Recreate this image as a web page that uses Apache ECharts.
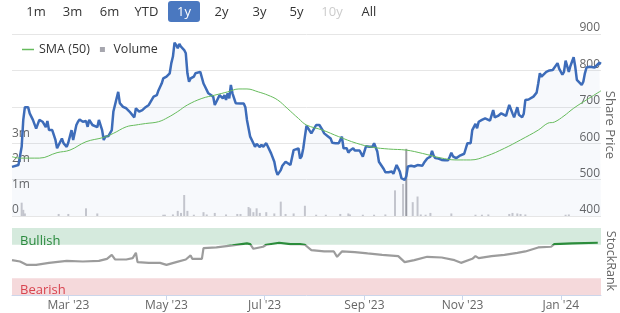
<!DOCTYPE html>
<html><head><meta charset="utf-8">
<script src="https://cdn.jsdelivr.net/npm/echarts@6/dist/echarts.min.js"></script>
<style>html,body{margin:0;padding:0;background:#fff}#c{width:620px;height:313px}</style>
</head><body><div id="c"></div>
<script>
const priceDates = ['2023-01-25','2023-01-26','2023-01-29','2023-01-30','2023-01-31','2023-02-01','2023-02-02','2023-02-04','2023-02-05','2023-02-07','2023-02-08','2023-02-09','2023-02-11','2023-02-13','2023-02-15','2023-02-16','2023-02-17','2023-02-19','2023-02-21','2023-02-22','2023-02-25','2023-02-26','2023-02-28','2023-03-01','2023-03-03','2023-03-04','2023-03-06','2023-03-07','2023-03-08','2023-03-10','2023-03-12','2023-03-13','2023-03-14','2023-03-16','2023-03-17','2023-03-19','2023-03-20','2023-03-22','2023-03-23','2023-03-24','2023-03-25','2023-03-26','2023-03-28','2023-03-29','2023-03-30','2023-04-01','2023-04-02','2023-04-04','2023-04-06','2023-04-08','2023-04-11','2023-04-12','2023-04-14','2023-04-16','2023-04-18','2023-04-20','2023-04-23','2023-04-25','2023-04-26','2023-04-28','2023-04-29','2023-05-01','2023-05-03','2023-05-04','2023-05-05','2023-05-06','2023-05-07','2023-05-08','2023-05-09','2023-05-10','2023-05-12','2023-05-13','2023-05-14','2023-05-15','2023-05-16','2023-05-17','2023-05-18','2023-05-19','2023-05-20','2023-05-22','2023-05-23','2023-05-24','2023-05-25','2023-05-27','2023-05-28','2023-05-30','2023-05-31','2023-06-01','2023-06-03','2023-06-04','2023-06-05','2023-06-06','2023-06-07','2023-06-08','2023-06-09','2023-06-10','2023-06-11','2023-06-13','2023-06-14','2023-06-16','2023-06-18','2023-06-19','2023-06-20','2023-06-22','2023-06-24','2023-06-25','2023-06-26','2023-06-28','2023-06-29','2023-06-30','2023-07-02','2023-07-03','2023-07-05','2023-07-07','2023-07-08','2023-07-09','2023-07-11','2023-07-12','2023-07-14','2023-07-15','2023-07-17','2023-07-18','2023-07-19','2023-07-20','2023-07-22','2023-07-23','2023-07-24','2023-07-25','2023-07-26','2023-07-27','2023-07-30','2023-08-02','2023-08-04','2023-08-06','2023-08-07','2023-08-09','2023-08-11','2023-08-12','2023-08-14','2023-08-16','2023-08-17','2023-08-18','2023-08-19','2023-08-21','2023-08-22','2023-08-23','2023-08-25','2023-08-26','2023-08-29','2023-08-30','2023-08-31','2023-09-02','2023-09-04','2023-09-06','2023-09-07','2023-09-09','2023-09-10','2023-09-11','2023-09-13','2023-09-14','2023-09-16','2023-09-18','2023-09-19','2023-09-21','2023-09-22','2023-09-23','2023-09-24','2023-09-26','2023-09-27','2023-09-28','2023-09-30','2023-10-01','2023-10-02','2023-10-04','2023-10-05','2023-10-07','2023-10-08','2023-10-10','2023-10-12','2023-10-13','2023-10-14','2023-10-15','2023-10-17','2023-10-19','2023-10-21','2023-10-23','2023-10-24','2023-10-25','2023-10-26','2023-10-28','2023-10-30','2023-10-31','2023-11-02','2023-11-03','2023-11-04','2023-11-06','2023-11-07','2023-11-09','2023-11-10','2023-11-11','2023-11-13','2023-11-15','2023-11-16','2023-11-18','2023-11-20','2023-11-21','2023-11-23','2023-11-25','2023-11-26','2023-11-28','2023-11-29','2023-11-30','2023-12-02','2023-12-03','2023-12-05','2023-12-06','2023-12-08','2023-12-09','2023-12-10','2023-12-12','2023-12-13','2023-12-15','2023-12-17','2023-12-18','2023-12-19','2023-12-20','2023-12-21','2023-12-23','2023-12-25','2023-12-27','2023-12-28','2023-12-30','2023-12-31','2024-01-02','2024-01-03','2024-01-04','2024-01-06','2024-01-07','2024-01-09','2024-01-10','2024-01-11','2024-01-12','2024-01-14','2024-01-15','2024-01-16','2024-01-17','2024-01-19','2024-01-20','2024-01-22','2024-01-23','2024-01-25','2024-01-26'];
const priceValues = [535,531,540,539,590,664,699,699,682,664,668,640,664,659,644,661,636,636,609,586,613,600,590,602,636,609,650,659,665,659,661,645,664,650,645,644,664,636,609,618,613,620,636,687,690,741,710,700,696,687,671,696,687,691,699,705,728,732,745,764,778,783,792,820,838,876,870,861,873,865,856,847,792,769,778,774,783,792,788,796,792,764,755,737,735,728,705,714,732,728,723,732,719,737,723,760,737,710,709,709,709,699,664,618,600,590,598,589,596,590,600,596,572,549,526,513,526,538,549,549,540,545,581,583,586,558,564,586,618,648,627,650,650,636,627,620,613,601,600,600,596,618,586,586,574,580,586,580,580,577,563,592,590,590,600,577,549,545,529,520,520,522,516,540,536,522,504,499,509,536,538,540,536,540,538,538,546,558,563,579,566,559,558,554,553,553,563,574,564,559,565,570,571,571,600,600,636,653,641,659,664,668,673,662,691,671,675,682,679,675,691,705,682,671,699,678,671,681,719,720,720,728,739,764,792,783,785,796,800,801,796,820,805,788,796,827,796,812,836,810,774,778,760,769,792,808,810,805,808,805,821,818];

const smaDates = ['2023-01-25','2023-01-30','2023-02-11','2023-02-22','2023-03-02','2023-03-12','2023-03-23','2023-03-29','2023-04-06','2023-04-12','2023-04-18','2023-04-26','2023-05-02','2023-05-08','2023-05-14','2023-05-23','2023-05-31','2023-06-08','2023-06-15','2023-06-20','2023-06-27','2023-07-03','2023-07-09','2023-07-15','2023-07-22','2023-07-27','2023-08-06','2023-08-16','2023-08-27','2023-09-06','2023-09-16','2023-09-27','2023-10-07','2023-10-18','2023-10-28','2023-11-06','2023-11-16','2023-11-27','2023-12-07','2023-12-18','2023-12-24','2023-12-28','2024-01-03','2024-01-09','2024-01-17','2024-01-26'];
const smaValues = [563,559,559,574,581,604,616,627,645,650,654,659,671,687,705,723,732,741,749,749,741,732,719,696,668,650,636,618,600,589,584,581,572,560,554,554,565,586,609,636,655,658,675,696,719,744];

const volumeDates = ['2023-01-31','2023-02-01','2023-02-02','2023-02-23','2023-03-01','2023-03-12','2023-03-19','2023-04-29','2023-04-30','2023-05-05','2023-05-08','2023-05-10','2023-05-12','2023-05-14','2023-05-18','2023-05-24','2023-05-26','2023-05-31','2023-06-07','2023-06-14','2023-06-16','2023-06-21','2023-06-22','2023-06-24','2023-06-26','2023-06-28','2023-07-02','2023-07-07','2023-07-11','2023-07-14','2023-07-19','2023-07-26','2023-08-02','2023-08-08','2023-08-17','2023-08-22','2023-08-23','2023-08-31','2023-09-07','2023-09-14','2023-09-20','2023-09-25','2023-09-27','2023-10-01','2023-10-04','2023-10-06','2023-10-09','2023-10-12','2023-10-25','2023-11-09','2023-11-13','2023-11-17','2023-11-30','2023-12-02','2023-12-05','2023-12-07','2023-12-10','2024-01-04','2024-01-06'];
const volumeValues = [520000,240000,100000,80000,80000,300000,100000,50000,50000,60000,200000,120000,820000,200000,50000,150000,60000,120000,60000,80000,80000,350000,300000,150000,300000,120000,150000,100000,560000,80000,100000,400000,50000,50000,80000,100000,60000,50000,50000,60000,1000000,1250000,2620000,540000,760000,60000,50000,120000,100000,50000,50000,60000,80000,120000,100000,80000,60000,50000,60000];

const rankDates = ['2023-01-25','2023-01-30','2023-02-03','2023-02-09','2023-02-17','2023-02-28','2023-03-10','2023-03-20','2023-03-25','2023-03-28','2023-03-30','2023-04-06','2023-04-10','2023-04-12','2023-04-13','2023-04-20','2023-04-27','2023-05-01','2023-05-07','2023-05-13','2023-05-16','2023-05-17','2023-05-23','2023-05-24','2023-06-01','2023-06-11','2023-06-20','2023-06-22','2023-06-24','2023-06-30','2023-07-02','2023-07-10','2023-07-17','2023-07-23','2023-07-26','2023-07-30','2023-08-07','2023-08-13','2023-08-15','2023-08-18','2023-08-26','2023-09-03','2023-09-12','2023-09-22','2023-09-26','2023-10-02','2023-10-10','2023-10-19','2023-10-27','2023-10-31','2023-11-07','2023-11-09','2023-11-11','2023-11-19','2023-11-27','2023-12-05','2023-12-10','2023-12-18','2023-12-26','2023-12-28','2024-01-08','2024-01-24'];
const rankValues = [52,50,45,45,48,51,50,51,54,60,53,53,55,63,49,48,48,45,49,53,59,54,54,70,71,74,77,76,69,72,75,78,76,76,75,67,65,65,57,65,64,62,60,58,49,52,57,56,52,48,54,58,55,58,60,63,65,71,72,76,77,78];

const xTickDates = ['2023-03-01','2023-05-01','2023-07-01','2023-09-01','2023-11-01','2024-01-01'];
const rangeButtons = ['1m','3m','6m','YTD','1y','2y','3y','5y','10y','All'];
const monthNames = ['Jan','Feb','Mar','Apr','May','Jun','Jul','Aug','Sep','Oct','Nov','Dec'];
const axisTitles = ['Share Price', 'StockRank'];

const FONT = "'Open Sans', 'Noto Sans', sans-serif";
function t(s){ return new Date(s + 'T00:00:00').getTime(); }
function zip(d, v){ return d.map((s, i) => [t(s), v[i]]); }
const xMin = t('2023-01-25'), xMax = t('2024-01-26');
const tickVals = xTickDates.map(t);
const maxVol = Math.max.apply(null, volumeValues);
const volData = volumeDates.map((s, i) => {
  const v = volumeValues[i];
  return v === maxVol ? { value: [t(s), v], itemStyle: { color: '#9c9ca2' } } : [t(s), v];
});

const chart = echarts.init(document.getElementById('c'), null, { renderer: 'canvas' });

const btnX = [36, 72.5, 109.5, 146.5, 184, 221.5, 259.5, 296.5, 332, 369];
const graphics = [{ type: 'rect', shape: { x: 168, y: 1, width: 32, height: 21, r: 3 }, style: { fill: '#4a78c0' } }];
rangeButtons.forEach((b, i) => {
  graphics.push({
    type: 'text', x: btnX[i], y: 12,
    style: { text: b, font: '13px ' + FONT, fill: b === '1y' ? '#ffffff' : (b === '10y' ? '#cccccc' : '#333333'), textAlign: 'center', textVerticalAlign: 'middle' }
  });
});
// rotated axis titles (reading top to bottom)
graphics.push({
  type: 'text', x: 610, y: 125, rotation: -Math.PI / 2,
  style: { text: axisTitles[0], font: '13px ' + FONT, fill: '#666', textAlign: 'center', textVerticalAlign: 'middle' }
});
graphics.push({
  type: 'text', x: 611, y: 261, rotation: -Math.PI / 2,
  style: { text: axisTitles[1], font: '12.5px ' + FONT, fill: '#666', textAlign: 'center', textVerticalAlign: 'middle' }
});

const option = {
  animation: false,
  textStyle: { fontFamily: FONT },
  graphic: graphics,
  legend: {
    left: 17, top: 38, itemWidth: 12, itemHeight: 5, itemGap: 10,
    textStyle: { fontSize: 12.5, color: '#333', fontFamily: FONT },
    data: [
      { name: 'SMA (50)', icon: 'path://M0,0H24V3H0Z', itemStyle: { color: '#66bb5c' } },
      { name: 'Volume', icon: 'path://M0,0H10V10H0Z', itemStyle: { color: '#a6a6ae' } }
    ]
  },
  grid: [
    { left: 12, right: 19, top: 34, height: 182, containLabel: false, outerBoundsMode: 'none' },
    { left: 12, right: 19, top: 228, height: 67, containLabel: false, outerBoundsMode: 'none' }
  ],
  xAxis: [
    { type: 'value', gridIndex: 0, min: xMin, max: xMax, show: false },
    {
      type: 'value', gridIndex: 1, min: xMin, max: xMax,
      axisLine: { show: true, lineStyle: { color: '#ccd6eb' } },
      axisTick: { show: true, customValues: tickVals, length: 5, lineStyle: { color: '#ccd6eb' } },
      axisLabel: {
        customValues: tickVals, color: '#666', fontSize: 12, margin: 5, fontFamily: FONT,
        formatter: v => { const d = new Date(v); return monthNames[d.getMonth()] + " '" + String(d.getFullYear()).slice(2); }
      },
      splitLine: { show: false }
    }
  ],
  yAxis: [
    {
      type: 'value', gridIndex: 0, position: 'right', min: 400, max: 900, interval: 100,
      axisLine: { show: false }, axisTick: { show: false },
      splitLine: { lineStyle: { color: '#e6e6e6' } },
      axisLabel: { inside: true, margin: 1, color: '#666', fontSize: 12, verticalAlign: 'bottom', fontFamily: FONT }
    },
    {
      type: 'value', gridIndex: 0, position: 'left', min: 0, max: 7100000, interval: 1000000,
      axisLine: { show: false }, axisTick: { show: false }, splitLine: { show: false },
      axisLabel: { inside: true, margin: 0, color: '#666', fontSize: 12, verticalAlign: 'bottom', fontFamily: FONT,
        formatter: v => v === 0 ? '0' : (v <= 3000000 ? (v / 1000000) + 'm' : '') }
    },
    {
      type: 'value', gridIndex: 1, position: 'right', min: 0, max: 100, interval: 100,
      axisLine: { show: false }, axisTick: { show: false }, splitLine: { show: false },
      axisLabel: { inside: true, margin: 2, color: '#666', fontSize: 12, verticalAlign: 'bottom', fontFamily: FONT,
        formatter: v => v === 0 ? '0' : '' }
    }
  ],
  visualMap: {
    show: false, type: 'piecewise', seriesIndex: 3, dimension: 1,
    pieces: [{ gte: 75, lte: 100, color: '#2b8c3b' }, { gte: 0, lt: 75, color: '#9c9c9c' }]
  },
  series: [
    {
      name: 'Volume', type: 'bar', xAxisIndex: 0, yAxisIndex: 1, barWidth: 2, z: 1,
      itemStyle: { color: '#c9c9ce' }, data: volData
    },
    {
      name: 'Price', type: 'line', xAxisIndex: 0, yAxisIndex: 0, symbol: 'none', z: 3,
      lineStyle: { color: '#3d6cb9', width: 2.5 }, itemStyle: { color: '#3d6cb9' },
      areaStyle: { origin: 'start', color: 'rgba(61,108,185,0.06)' },
      data: zip(priceDates, priceValues)
    },
    {
      name: 'SMA (50)', type: 'line', xAxisIndex: 0, yAxisIndex: 0, symbol: 'none', smooth: 0.4, z: 4,
      lineStyle: { color: '#66bb5c', width: 1 }, itemStyle: { color: '#66bb5c' },
      data: zip(smaDates, smaValues)
    },
    {
      name: 'StockRank', type: 'line', xAxisIndex: 1, yAxisIndex: 2, symbol: 'none', z: 3,
      lineStyle: { width: 2.2 },
      data: zip(rankDates, rankValues),
      markArea: {
        silent: true,
        data: [
          [{ name: 'Bullish', yAxis: 75, itemStyle: { color: '#d5eadd' },
             label: { show: true, position: 'insideBottomLeft', distance: 0, offset: [8, 3], color: '#2a8a3e', fontSize: 13, fontFamily: FONT } },
           { yAxis: 100 }],
          [{ name: 'Bearish', yAxis: 0, itemStyle: { color: '#f5d9db' },
             label: { show: true, position: 'insideBottomLeft', distance: 0, offset: [8, 2], color: '#d8434f', fontSize: 13, fontFamily: FONT } },
           { yAxis: 25 }]
        ]
      }
    }
  ]
};
chart.setOption(option);
</script>
</body></html>
